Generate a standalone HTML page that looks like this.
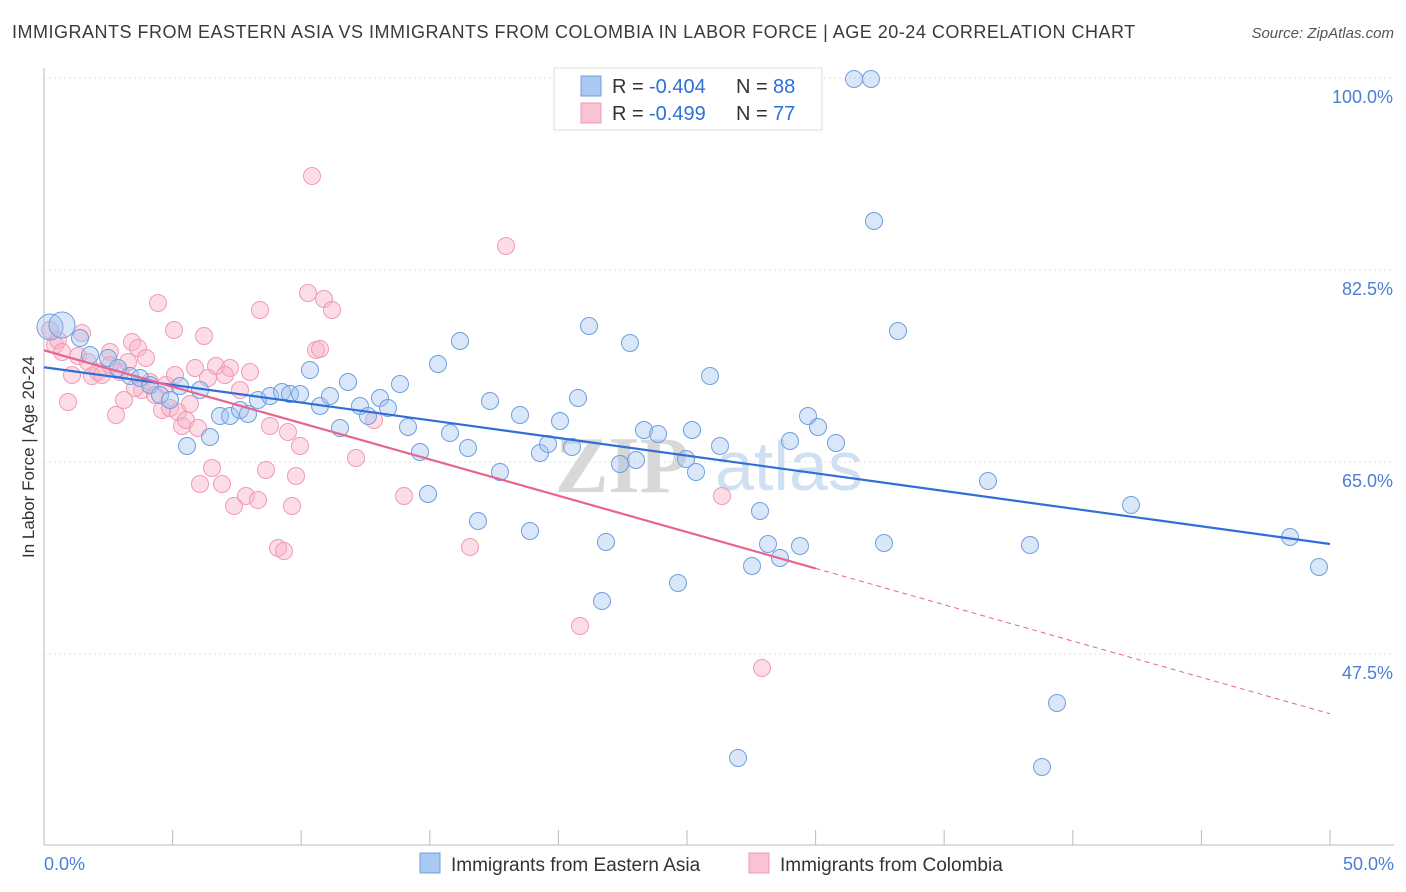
<!DOCTYPE html>
<html><head><meta charset="utf-8"><style>
body{margin:0;background:#fff;font-family:"Liberation Sans",sans-serif;}
#wrap{position:relative;width:1406px;height:892px;overflow:hidden}
.t{position:absolute;white-space:nowrap}
</style></head><body>
<div id="wrap">
<div class="t" style="left:12px;top:22px;font-size:18px;letter-spacing:0.5px;color:#3a3a3a">IMMIGRANTS FROM EASTERN ASIA VS IMMIGRANTS FROM COLOMBIA IN LABOR FORCE | AGE 20-24 CORRELATION CHART</div>
<div class="t" style="right:12px;top:25px;font-size:15px;color:#555;font-style:italic">Source: ZipAtlas.com</div>
<svg id="svg" width="1406" height="892" style="position:absolute;left:0;top:0"></svg>
</div>
<script>
const yTicks=[100,82.5,65,47.5];
const xLabels=["0.0%","50.0%"];
const blueX=[50,62,80,90,108,118,130,140,150,160,170,180,187,200,210,220,230,240,248,258,270,282,290,300,310,320,330,340,348,360,368,380,388,400,408,420,428,438,450,460,468,478,490,500,520,530,540,548,560,572,578,589,606,620,630,636,644,658,678,686,696,710,720,738,752,760,768,780,790,800,808,818,836,854,871,874,884,898,988,1030,1042,1057,1131,1290,1319,602,692];
const blueY=[327,325,338,355,358,368,376,378,385,395,400,386,446,390,437,416,416,410,414,400,396,392,394,394,370,406,396,428,382,406,416,398,408,384,427,452,494,364,433,341,448,521,401,472,415,531,453,444,421,447,398,326,542,464,343,460,430,434,583,459,472,376,446,758,566,511,544,558,441,546,416,427,443,79,79,221,543,331,481,545,767,703,505,537,567,601,430];
const pinkX=[50,55,58,62,68,72,78,82,88,92,98,102,110,116,120,124,128,132,138,142,146,150,155,158,162,166,170,174,178,182,186,190,195,198,200,204,208,212,216,222,230,234,240,246,250,258,260,266,270,278,284,288,292,296,300,308,312,316,320,324,332,356,374,404,470,506,580,722,762,110,135,225,175];
const pinkY=[330,345,340,352,402,375,356,333,362,376,372,375,352,415,372,400,362,342,348,390,358,382,395,303,410,385,408,330,412,426,420,404,368,428,484,336,378,468,366,484,368,506,390,496,372,500,310,470,426,548,551,432,506,476,446,293,176,350,349,299,310,458,420,496,547,246,626,496,668,365,388,375,375];
const X0=44,X1=1330,Y100=78,PPU=192/17.5;
const toXv=p=>(p-X0)/(X1-X0)*50, toYv=p=>100-(p-Y100)/PPU;
const blueData=blueX.map((x,i)=>[toXv(x),toYv(blueY[i])]);
const pinkData=pinkX.map((x,i)=>[toXv(x),toYv(pinkY[i])]);
const xs=v=>X0+v/50*(X1-X0), ys=v=>Y100+(100-v)*PPU;
const svg=document.getElementById('svg');const NS='http://www.w3.org/2000/svg';
function mk(t,a,p){const e=document.createElementNS(NS,t);for(const k in a)e.setAttribute(k,a[k]);(p||svg).appendChild(e);return e;}
let e;
e=mk('text',{x:555,y:492,'font-size':80,fill:'#d8d8d8','font-family':'Liberation Serif','font-weight':'bold'});e.textContent='ZIP';


e=mk('text',{x:715,y:490,'font-size':70,fill:'#cfe0f2','font-family':'Liberation Sans'});e.textContent='atlas';


yTicks.forEach(v=>{
 e=mk('line',{x1:X0,x2:1394,y1:ys(v),y2:ys(v),stroke:'#ddd','stroke-dasharray':'2,3'});
 
 
 e=mk('text',{x:1393,y:ys(v)+25,'text-anchor':'end','font-size':18,fill:'#4a7fd4'});e.textContent=v.toFixed(1)+'%';
 
 
});
mk('line',{x1:X0,x2:X0,y1:68,y2:845,stroke:'#bbb'});
mk('line',{x1:X0,x2:1394,y1:845,y2:845,stroke:'#bbb'});
for(let i=0;i<=10;i++){mk('line',{x1:xs(i*5),x2:xs(i*5),y1:830,y2:845,stroke:'#bbb'});}
e=mk('text',{x:44,y:870,'font-size':18,fill:'#4a7fd4'});e.textContent=xLabels[0];


e=mk('text',{x:1394,y:870,'font-size':18,fill:'#4a7fd4','text-anchor':'end'});e.textContent=xLabels[1];


e=mk('text',{x:34,y:457,'font-size':17,fill:'#333','text-anchor':'middle',transform:'rotate(-90 34 457)'});e.textContent='In Labor Force | Age 20-24';


function pts(data,fill,stroke,name){data.forEach((d,i)=>{const r=(i<2&&name=='blue-point')?13:8.5;
 const c=mk('circle',{cx:xs(d[0]),cy:ys(d[1]),r:r,fill:fill,stroke:stroke,'stroke-width':1});
 
 });}
pts(pinkData,'rgba(248,180,200,0.45)','#f09ab5','pink-point');
pts(blueData,'rgba(160,195,240,0.4)','#6f9fe0','blue-point');
function fit(data){const n=data.length;let sx=0,sy=0,sxx=0,sxy=0;data.forEach(d=>{sx+=d[0];sy+=d[1];sxx+=d[0]*d[0];sxy+=d[0]*d[1];});const b=(n*sxy-sx*sy)/(n*sxx-sx*sx);return [b,(sy-b*sx)/n];}
const bf=fit(blueData),pf=fit(pinkData);
e=mk('line',{x1:xs(0),y1:ys(bf[1]),x2:xs(50),y2:ys(bf[1]+bf[0]*50),stroke:'#2f6fd8','stroke-width':2.2});


const pe=30;
e=mk('line',{x1:xs(0),y1:ys(pf[1]),x2:xs(pe),y2:ys(pf[1]+pf[0]*pe),stroke:'#e8638f','stroke-width':2.2});


e=mk('line',{x1:xs(pe),y1:ys(pf[1]+pf[0]*pe),x2:xs(50),y2:ys(pf[1]+pf[0]*50),stroke:'#e8638f','stroke-width':1,'stroke-dasharray':'5,4'});


const g=mk('g',{});
mk('rect',{x:554,y:68,width:268,height:62,fill:'#fff',stroke:'#ddd'},g);
[['#a9c8f2','#6f9fe0','-0.404','88',86],['#f8c3d3','#f09ab5','-0.499','77',113]].forEach(r=>{
 mk('rect',{x:581,y:r[4]-10,width:20,height:20,fill:r[0],stroke:r[1]},g);
 let t=mk('text',{x:612,y:r[4]+7,'font-size':20,fill:'#333'},g);t.textContent='R =';
 t=mk('text',{x:649,y:r[4]+7,'font-size':20,fill:'#2f6fd8'},g);t.textContent=r[2];
 t=mk('text',{x:736,y:r[4]+7,'font-size':20,fill:'#333'},g);t.textContent='N =';
 t=mk('text',{x:773,y:r[4]+7,'font-size':20,fill:'#2f6fd8'},g);t.textContent=r[3];
});
[['#a9c8f2','#6f9fe0','Immigrants from Eastern Asia',420],['#f8c3d3','#f09ab5','Immigrants from Colombia',749]].forEach(r=>{
 const gg=mk('g',{});
 mk('rect',{x:r[3],y:853,width:20,height:20,fill:r[0],stroke:r[1]},gg);
 const t=mk('text',{x:r[3]+31,y:871,'font-size':19,fill:'#333'},gg);t.textContent=r[2];
});
</script>
</body></html>
